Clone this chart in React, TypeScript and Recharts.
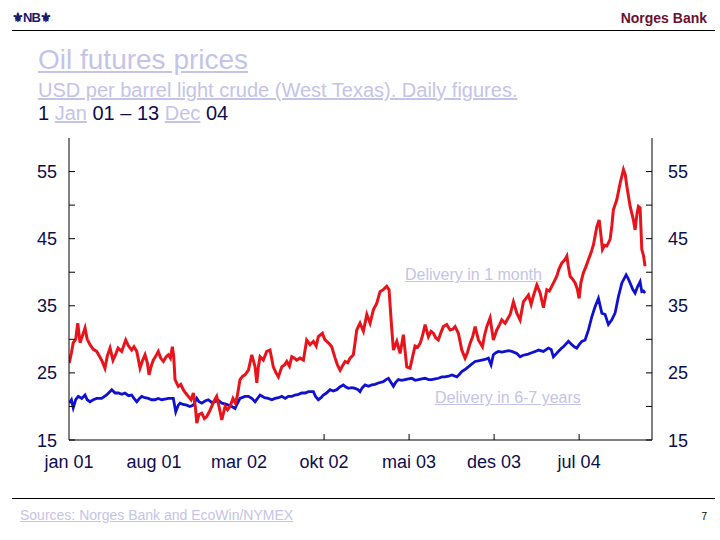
import React from "react";
import { LineChart, Line, XAxis, YAxis } from "recharts";

// time axis: months since 1 Jan 2001
const xTicks = [0, 7, 14, 21, 28, 35, 42];
const xTickLabels = ["jan 01", "aug 01", "mar 02", "okt 02", "mai 03", "des 03", "jul 04"];
const yTicks = [15, 20, 25, 30, 35, 40, 45, 50, 55, 60];
const yLabelled = [15, 25, 35, 45, 55];

// Delivery in 1 month
const frontT = [
  0.02, 0.2, 0.35, 0.55, 0.72, 0.91, 1.1, 1.32, 1.5, 1.73, 2.0, 2.28, 2.5, 2.69, 2.96, 3.15, 3.38, 3.62, 3.85, 4.04,
  4.34, 4.67, 4.9, 5.16, 5.35, 5.58, 5.85, 6.05, 6.26, 6.45, 6.59, 6.8, 6.94, 7.15, 7.35, 7.55, 7.77, 8.0, 8.18, 8.35,
  8.51, 8.62, 8.73, 9.0, 9.2, 9.41, 9.6, 9.82, 10.05, 10.24, 10.4, 10.52, 10.7, 10.93, 11.15, 11.34, 11.55, 11.75, 12.0, 12.16,
  12.35, 12.58, 12.85, 13.05, 13.26, 13.5, 13.7, 13.85, 14.08, 14.3, 14.49, 14.77, 15.05, 15.32, 15.46, 15.6, 15.73, 16.0, 16.28, 16.55,
  16.82, 17.05, 17.24, 17.52, 17.75, 17.93, 18.15, 18.34, 18.55, 18.75, 19.02, 19.3, 19.57, 19.85, 20.12, 20.35, 20.53, 20.86, 21.05, 21.22,
  21.45, 21.63, 21.91, 22.1, 22.32, 22.5, 22.73, 22.95, 23.14, 23.41, 23.55, 23.69, 23.96, 24.24, 24.52, 24.79, 25.06, 25.34, 25.61, 25.88,
  26.16, 26.35, 26.58, 26.71, 26.99, 27.26, 27.53, 27.81, 28.08, 28.3, 28.49, 28.7, 28.91, 29.1, 29.32, 29.59, 29.8, 30.0, 30.2, 30.41,
  30.62, 30.82, 31.1, 31.38, 31.6, 31.79, 32.06, 32.34, 32.61, 32.8, 33.02, 33.25, 33.44, 33.71, 34.04, 34.2, 34.4, 34.67, 34.94, 35.22,
  35.45, 35.63, 35.91, 36.1, 36.32, 36.59, 36.87, 37.14, 37.41, 37.83, 38.05, 38.24, 38.52, 38.79, 39.06, 39.34, 39.55, 39.75, 40.16, 40.35,
  40.58, 40.8, 40.99, 41.1, 41.26, 41.45, 41.67, 41.85, 42.0, 42.15, 42.35, 42.55, 42.77, 43.0, 43.18, 43.46, 43.65, 43.8, 43.92, 44.1,
  44.28, 44.55, 44.7, 44.82, 45.1, 45.38, 45.65, 45.8, 45.93, 46.2, 46.47, 46.61, 46.75, 46.88, 47.02, 47.16, 47.3, 47.43,
];
const frontV = [
  26.5, 28.0, 29.5, 30.0, 32.4, 29.5, 30.5, 31.7, 30.0, 29.2, 28.5, 28.2, 27.5, 26.9, 25.7, 27.5, 28.7, 26.9, 27.8, 28.7,
  28.2, 29.9, 29.0, 28.4, 28.9, 28.2, 25.7, 26.8, 27.7, 26.5, 24.7, 26.2, 26.9, 27.5, 28.2, 27.2, 26.7, 27.4, 27.7, 27.2,
  28.9, 27.5, 24.0, 23.0, 23.3, 22.5, 22.0, 21.5, 21.0, 22.0, 20.0, 17.5, 18.8, 19.0, 18.2, 18.5, 19.2, 20.0, 21.0, 21.5,
  20.0, 18.0, 20.0, 19.5, 20.0, 21.2, 20.5, 21.5, 24.0, 24.5, 24.7, 25.4, 27.7, 25.9, 23.5, 26.0, 27.4, 26.9, 28.2, 28.4,
  25.9, 25.0, 24.4, 25.9, 26.2, 26.7, 26.0, 27.4, 27.2, 26.9, 27.2, 26.9, 29.9, 29.2, 29.7, 29.0, 30.4, 30.9, 30.0, 29.7,
  29.3, 28.9, 27.2, 26.2, 25.4, 26.0, 26.7, 26.5, 27.2, 27.7, 29.5, 31.4, 32.4, 31.2, 33.7, 32.4, 34.4, 35.4, 37.1, 37.4,
  37.9, 37.4, 31.4, 28.4, 29.7, 27.9, 30.7, 25.9, 25.7, 27.5, 29.0, 28.8, 29.4, 30.5, 32.2, 30.4, 31.2, 30.9, 30.2, 29.9,
  31.0, 31.9, 32.2, 31.4, 31.5, 31.9, 30.9, 28.4, 27.2, 28.0, 29.4, 30.5, 31.9, 29.9, 28.9, 30.5, 31.9, 33.2, 29.9, 31.4,
  32.2, 32.9, 32.4, 33.0, 33.7, 35.6, 33.9, 32.9, 35.6, 36.6, 35.2, 36.5, 38.1, 36.9, 34.7, 37.4, 37.2, 37.9, 39.4, 40.5,
  41.4, 41.8, 42.4, 41.0, 39.4, 39.0, 38.4, 37.5, 36.1, 38.5, 39.9, 40.8, 41.9, 43.0, 44.1, 46.8, 47.8, 45.5, 43.4, 44.0,
  43.9, 44.9, 47.0, 49.3, 50.8, 53.3, 55.3, 54.5, 52.8, 49.8, 47.8, 46.3, 48.5, 49.8, 49.6, 43.4, 42.5, 40.9,
];

// Delivery in 6-7 years
const longT = [
  0.02, 0.2, 0.35, 0.55, 0.77, 1.05, 1.32, 1.5, 1.73, 2.0, 2.28, 2.69, 3.1, 3.52, 3.8, 4.06, 4.35, 4.61, 4.9, 5.16,
  5.35, 5.58, 5.8, 5.99, 6.25, 6.53, 6.8, 7.08, 7.35, 7.63, 7.9, 8.18, 8.59, 8.79, 9.0, 9.14, 9.4, 9.69, 9.95, 10.24,
  10.52, 10.7, 10.93, 11.2, 11.47, 11.75, 12.02, 12.3, 12.58, 12.85, 13.12, 13.4, 13.67, 13.85, 14.08, 14.49, 14.77, 15.05, 15.32, 15.73,
  16.1, 16.41, 16.7, 16.96, 17.25, 17.52, 17.8, 18.06, 18.35, 18.61, 18.9, 19.16, 19.45, 19.71, 20.12, 20.3, 20.53, 20.75, 20.94, 21.2,
  21.49, 21.75, 22.05, 22.3, 22.59, 22.8, 23.0, 23.3, 23.55, 23.8, 23.96, 24.15, 24.38, 24.65, 24.93, 25.2, 25.47, 25.88, 26.1, 26.3,
  26.5, 26.71, 26.9, 27.12, 27.4, 27.67, 27.95, 28.22, 28.5, 28.77, 29.05, 29.32, 29.6, 29.87, 30.15, 30.41, 30.7, 30.96, 31.25, 31.52,
  31.93, 32.15, 32.34, 32.6, 32.88, 33.15, 33.44, 33.7, 33.99, 34.25, 34.53, 34.75, 34.94, 35.15, 35.35, 35.65, 35.91, 36.2, 36.46, 36.87,
  37.14, 37.35, 37.55, 37.8, 38.1, 38.4, 38.65, 39.06, 39.47, 39.7, 39.88, 40.1, 40.29, 40.5, 40.71, 41.12, 41.4, 41.6, 41.81, 42.0,
  42.22, 42.49, 42.77, 43.05, 43.32, 43.59, 43.87, 44.14, 44.41, 44.69, 44.96, 45.24, 45.52, 45.87, 46.05, 46.2, 46.4, 46.61, 46.8, 47.02,
  47.16, 47.3, 47.43,
];
const longV = [
  20.5, 21.0, 19.8, 21.0, 21.5, 21.2, 21.7, 21.0, 20.7, 21.0, 21.2, 21.2, 21.7, 22.5, 22.0, 22.0, 21.8, 22.0, 21.6, 21.7,
  21.2, 20.7, 21.2, 21.5, 21.3, 21.2, 21.0, 21.0, 21.2, 21.0, 21.1, 21.2, 21.2, 19.2, 20.2, 20.5, 20.3, 20.2, 20.0, 20.2,
  21.2, 20.7, 20.5, 20.8, 21.0, 20.6, 20.7, 20.9, 20.5, 20.4, 20.2, 20.0, 19.7, 20.4, 21.2, 21.5, 21.5, 21.2, 20.7, 21.7,
  21.3, 21.2, 21.0, 21.2, 21.3, 21.5, 21.2, 21.5, 21.5, 21.7, 21.8, 22.0, 22.0, 22.2, 22.2, 21.5, 21.0, 21.3, 21.7, 22.0,
  22.5, 22.3, 22.5, 22.9, 23.2, 22.9, 22.7, 22.8, 22.7, 22.5, 22.2, 22.8, 23.2, 23.0, 23.2, 23.3, 23.5, 23.7, 24.0, 24.2,
  23.6, 23.0, 23.6, 24.0, 23.9, 24.0, 24.1, 24.2, 23.9, 24.0, 24.1, 24.2, 24.0, 24.0, 24.1, 24.2, 24.4, 24.4, 24.5, 24.7,
  24.4, 24.8, 25.2, 25.5, 25.9, 26.3, 26.7, 26.8, 26.9, 27.0, 27.2, 26.2, 27.7, 28.0, 28.2, 28.1, 28.2, 28.3, 28.2, 27.9,
  27.4, 27.6, 27.7, 27.8, 28.0, 28.2, 28.4, 28.2, 28.7, 28.5, 27.4, 27.8, 28.2, 28.6, 28.9, 29.7, 29.2, 28.9, 28.7, 29.2,
  29.7, 29.9, 31.4, 33.4, 34.9, 36.1, 33.9, 33.7, 32.2, 32.9, 33.9, 36.4, 38.4, 39.6, 39.0, 38.4, 37.5, 36.9, 37.8, 38.6,
  37.1, 37.2, 36.9,
];

const frontData = frontT.map((t, i) => ({ t, v: frontV[i] }));
const longData = longT.map((t, i) => ({ t, v: longV[i] }));

const FONT = "'Liberation Sans', Arial, sans-serif";
const NAVY = "#0d0d4e";
const LAVENDER = "#c4c4e8";

// places a one-line text so that its baseline lands on `base`
const Txt = ({ x, base, size, color, bold, under, children, right }: any) => (
  <div
    style={{
      position: "absolute",
      left: right ? undefined : x,
      right: right ? 720 - x : undefined,
      top: base - 0.8465 * size,
      fontSize: size,
      lineHeight: 1,
      fontFamily: FONT,
      fontWeight: bold ? "bold" : "normal",
      color,
      textDecoration: under ? "underline" : "none",
      whiteSpace: "nowrap",
    }}
  >
    {children}
  </div>
);

const XTick = ({ x, y, payload }: any) => {
  const idx = xTicks.indexOf(payload.value);
  return (
    <g>
      {payload.value >= 21 && <line x1={x} x2={x} y1={y} y2={y - 6} stroke="#000" />}
      <text x={x} y={y + 28} textAnchor="middle" fontSize={18} fontFamily={FONT} fill={NAVY}>
        {xTickLabels[idx]}
      </text>
    </g>
  );
};

const YTick = ({ x, y, payload, side }: any) => {
  const v = payload.value;
  const inward = side === "left" ? 6 : -6;
  return (
    <g>
      {v < 60 && <line x1={x} x2={x + inward} y1={y} y2={y} stroke="#000" />}
      {yLabelled.includes(v) && (
        <text
          x={side === "left" ? x - 12 : x + 16}
          y={y + 6.5}
          textAnchor={side === "left" ? "end" : "start"}
          fontSize={18}
          fontFamily={FONT}
          fill={NAVY}
        >
          {v}
        </text>
      )}
    </g>
  );
};

export default function App() {
  return (
    <div style={{ position: "absolute", left: 0, top: 0, width: 720, height: 540, background: "#fff", overflow: "hidden" }}>
      {/* header */}
      <Txt x={12} base={22} size={13} color="#1b1b6e" bold>
        <span style={{ letterSpacing: -1 }}>⚜NB⚜</span>
      </Txt>
      <Txt x={707} base={23} size={14} color="#6b1030" bold right>
        Norges Bank
      </Txt>
      <div style={{ position: "absolute", left: 12, top: 30, width: 703, borderTop: "1px solid #000" }} />

      <Txt x={38} base={70} size={28} color={LAVENDER} under>
        Oil futures prices
      </Txt>
      <Txt x={38} base={97} size={20} color={LAVENDER} under>
        USD per barrel light crude (West Texas). Daily figures.
      </Txt>
      <Txt x={38} base={120} size={20} color={NAVY}>
        1 <span style={{ color: LAVENDER, textDecoration: "underline" }}>Jan</span> 01 – 13{" "}
        <span style={{ color: LAVENDER, textDecoration: "underline" }}>Dec</span> 04
      </Txt>

      <div style={{ position: "absolute", left: 0, top: 0 }}>
        <LineChart width={720} height={540} margin={{ top: 138, right: 8, bottom: 70, left: 9 }}>
          <XAxis
            dataKey="t"
            type="number"
            domain={[0, 48]}
            ticks={xTicks}
            allowDataOverflow
            axisLine={{ stroke: "#000" }}
            tickLine={false}
            tickSize={0}
            tickMargin={0}
            height={30}
            tick={<XTick />}
          />
          <YAxis
            yAxisId="left"
            type="number"
            domain={[15, 60]}
            ticks={yTicks}
            allowDataOverflow
            width={60}
            axisLine={{ stroke: "#000" }}
            tickLine={false}
            tickSize={0}
            tickMargin={0}
            tick={<YTick side="left" />}
          />
          <YAxis
            yAxisId="right"
            orientation="right"
            type="number"
            domain={[15, 60]}
            ticks={yTicks}
            allowDataOverflow
            width={60}
            axisLine={{ stroke: "#000" }}
            tickLine={false}
            tickSize={0}
            tickMargin={0}
            tick={<YTick side="right" />}
          />
          <Line
            yAxisId="left"
            data={longData}
            dataKey="v"
            type="linear"
            stroke="#1010d0"
            strokeWidth={2.8}
            dot={false}
            isAnimationActive={false}
          />
          <Line
            yAxisId="left"
            data={frontData}
            dataKey="v"
            type="linear"
            stroke="#e8141c"
            strokeWidth={3}
            dot={false}
            isAnimationActive={false}
          />
        </LineChart>
      </div>

      {/* series labels */}
      <Txt x={405} base={281} size={16} color={LAVENDER} under>
        Delivery in 1 month
      </Txt>
      <Txt x={435} base={404} size={16} color={LAVENDER} under>
        Delivery in 6-7 years
      </Txt>

      {/* footer */}
      <div style={{ position: "absolute", left: 12, top: 498, width: 703, borderTop: "1px solid #000" }} />
      <Txt x={20} base={520} size={14} color={LAVENDER} under>
        Sources: Norges Bank and EcoWin/NYMEX
      </Txt>
      <Txt x={707} base={520} size={10} color="#000" right>
        7
      </Txt>
    </div>
  );
}
